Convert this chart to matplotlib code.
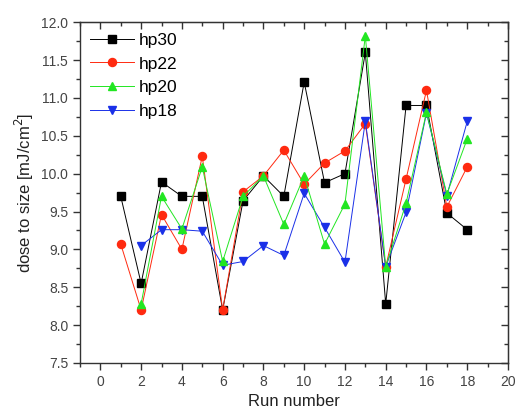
import numpy as np
import matplotlib
matplotlib.use("Agg")
import matplotlib.pyplot as plt
from matplotlib.ticker import MultipleLocator, FormatStrFormatter

plt.rcParams['font.family'] = ['Liberation Sans', 'DejaVu Sans']

runs = np.arange(1, 19)
nan = np.nan
hp30 = [9.70, 8.55, 9.89, 9.70, 9.70, 8.20, 9.64, 9.97, 9.70, 11.21, 9.88, 10.00, 11.60, 8.28, 10.90, 10.90, 9.48, 9.26]
hp22 = [9.07, 8.20, 9.46, 9.00, 10.23, 8.20, 9.76, 9.97, 10.31, 9.86, 10.14, 10.30, 10.66, 8.77, 9.93, 11.10, 9.56, 10.09]
hp20 = [nan, 8.28, 9.70, 9.27, 10.09, 8.84, 9.70, 9.97, 9.33, 9.97, 9.07, 9.60, 11.82, 8.77, 9.61, 10.81, 9.73, 10.46]
hp18 = [nan, 9.05, 9.26, 9.26, 9.24, 8.79, 8.84, 9.05, 8.92, 9.74, 9.29, 8.83, 10.69, 8.77, 9.49, 10.80, 9.71, 10.69]

# name, values, colour, marker, drawing order
series = [("hp30", hp30, "black", "s", 2),
          ("hp22", hp22, "#ff2a10", "o", 3),
          ("hp20", hp20, "#22e622", "^", 5),
          ("hp18", hp18, "#1a30e8", "v", 4)]

fig = plt.figure(figsize=(5.16, 4.18), dpi=100)
ax = fig.add_axes([0.155, 0.1316, 0.8295, 0.8154])

for name, vals, col, mk, z in series:
    ax.plot(runs, vals, color=col, marker=mk, markersize=5.8, linewidth=0.7,
            markeredgecolor=col, markerfacecolor=col, label=name, zorder=z)

ax.set_xlim(-1, 20)
ax.set_ylim(7.5, 12.0)
ax.xaxis.set_major_locator(MultipleLocator(2))
ax.xaxis.set_minor_locator(MultipleLocator(1))
ax.yaxis.set_major_locator(MultipleLocator(0.5))
ax.yaxis.set_minor_locator(MultipleLocator(0.25))
ax.yaxis.set_major_formatter(FormatStrFormatter('%.1f'))

ax.tick_params(which='both', direction='out', top=False, right=False, labelsize=10,
               colors='#333333', labelcolor='#444444')
ax.tick_params(which='major', length=5, width=1)
ax.tick_params(which='minor', length=3, width=1)
# inward ticks mirrored on top and right
ax2 = ax.secondary_xaxis('top')
ax2.xaxis.set_major_locator(MultipleLocator(2))
ax2.xaxis.set_minor_locator(MultipleLocator(1))
ax2.tick_params(which='both', direction='in', labeltop=False, width=1, colors='#333333')
ax2.tick_params(which='major', length=5)
ax2.tick_params(which='minor', length=3)
ay2 = ax.secondary_yaxis('right')
ay2.yaxis.set_major_locator(MultipleLocator(0.5))
ay2.yaxis.set_minor_locator(MultipleLocator(0.25))
ay2.tick_params(which='both', direction='in', labelright=False, width=1, colors='#333333')
ay2.tick_params(which='major', length=5)
ay2.tick_params(which='minor', length=3)
for s in ax.spines.values():
    s.set_color('#333333')
    s.set_linewidth(1)

ax.set_xlabel("Run number", fontsize=12, color='#222222')
ax.set_ylabel("dose to size [mJ/cm$^2$]", fontsize=12, color='#222222')

ax.legend(loc='upper left', frameon=False, fontsize=12.5, handlelength=2.5,
          handletextpad=0.3, labelspacing=0.5, borderaxespad=0.2)

fig.savefig("out.png", dpi=100)
